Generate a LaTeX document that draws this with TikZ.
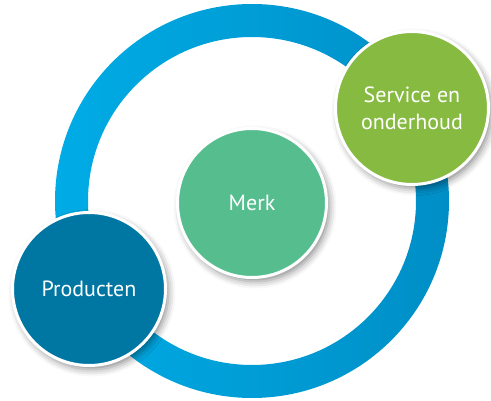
\documentclass[tikz,border=0pt]{standalone}
\usepackage{fontspec}
\setmainfont{PT Sans}
\usetikzlibrary{shadows.blur}
\definecolor{ringL}{RGB}{0,172,230}
\definecolor{ringR}{RGB}{0,142,198}
\definecolor{merkC}{RGB}{86,190,142}
\definecolor{servC}{RGB}{134,186,65}
\definecolor{prodC}{RGB}{0,118,163}
\tikzset{
  bubble/.style={circle, draw=white, line width=3pt, text=white, align=center,
    font=\fontsize{22}{27}\selectfont,
    blur shadow={shadow xshift=3pt, shadow yshift=-4pt, shadow blur radius=7pt, shadow opacity=45}},
}
\begin{document}
\begin{tikzpicture}[x=1pt,y=-1pt]
\useasboundingbox (0,0) rectangle (491,401);
\coordinate (c) at (252,201);
\shade[left color=ringL, right color=ringR, even odd rule] (c) circle (197pt) (c) circle (164pt);
\node[bubble, fill=merkC, minimum size=149pt] (merk) at (252,203) {Merk};
\node[bubble, fill=prodC, minimum size=153pt] (prod) at (89,289) {Producten};
\node[bubble, fill=servC, minimum size=153pt] (serv) at (412,108) {Service en\\onderhoud};
\end{tikzpicture}
\end{document}
